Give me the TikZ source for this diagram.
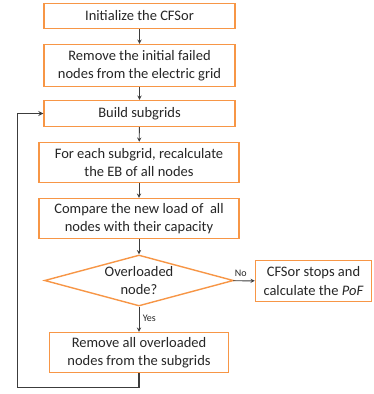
\documentclass[tikz,border=0pt]{standalone}
\usepackage{fontspec}
\setmainfont{Carlito}
\usetikzlibrary{shapes,shapes.geometric,calc}
\definecolor{boxorange}{RGB}{247,150,70}
\definecolor{linegray}{RGB}{60,60,60}
\begin{document}
\begin{tikzpicture}[x=1pt,y=1pt,>=stealth]
			\tikzstyle{stepbox}=[rectangle, draw=boxorange, line width=1.4pt, fill=white, text=black!85, align=center, inner sep=2pt, font=\fontsize{14.5}{18.5}\selectfont]
			\tikzstyle{decision}=[diamond, draw=boxorange, line width=1.4pt, fill=white, inner sep=0pt, minimum width=189pt, minimum height=51pt]
			\tikzstyle{flow}=[->, draw=linegray, line width=0.9pt]
			\tikzstyle{small}=[font=\fontsize{10}{12}\selectfont, text=black!85]
			\useasboundingbox (0,0) rectangle (373,-394);
			\node[stepbox, minimum width=191pt, minimum height=25pt] (init) at (139.5,-16) {Initialize the CFSor};
			\node[stepbox, minimum width=191pt, minimum height=42pt] (remove) at (139.5,-65.5) {Remove the initial failed\\nodes from the electric grid};
			\node[stepbox, minimum width=191pt, minimum height=26pt] (build) at (139.5,-113.5) {Build subgrids};
			\node[stepbox, minimum width=200pt, minimum height=40pt] (recalc) at (139,-162.5) {For each subgrid, recalculate\\the EB of all nodes};
			\node[stepbox, minimum width=200pt, minimum height=40pt] (compare) at (139,-218.5) {Compare the new load of \ all\\nodes with their capacity};
			\node[decision] (over) at (139,-280.5) {};
			\node[stepbox, draw=none, fill=none, inner sep=0pt] (overtext) at (over.center) {Overloaded\\node?};
			\node[stepbox, minimum width=116pt, minimum height=41pt] (stop) at (313.5,-281) {CFSor stops and\\calculate the \emph{PoF}};
			\node[stepbox, minimum width=179pt, minimum height=40pt] (cut) at (139,-352.5) {Remove all overloaded\\nodes from the subgrids};
			% main chain
			\draw[flow] (init) -- (remove);
			\draw[flow] (remove) -- (build);
			\draw[flow] (build) -- (recalc);
			\draw[flow] (recalc) -- (compare);
			\draw[flow] (compare) -- (over);
			\draw[flow] (over) -- node[small, above, pos=0.35] {No} (stop);
			\draw[flow] (over) -- node[small, right, pos=0.45] {Yes} (cut);
			% back to the subgrids
			\draw[flow, line width=1.2pt] (cut.south) -- ++(0,-14) -| ($(build.west)+(-26,0)$) -- (build.west);
		\end{tikzpicture}
\end{document}
